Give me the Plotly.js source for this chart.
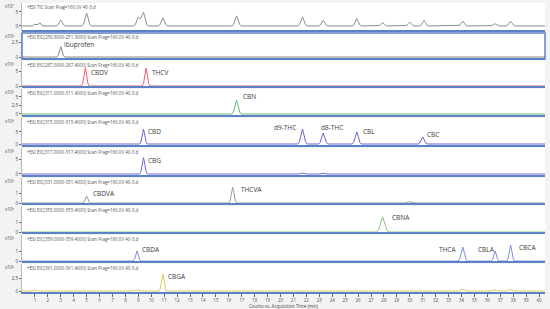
<!DOCTYPE html>
<html>
<head>
<meta charset="utf-8">
<script src="https://cdn.plot.ly/plotly-3.0.1.min.js"></script>
<style>
  html, body { margin: 0; padding: 0; background: #f3f3f3; }
  #tester { width: 550px; height: 309px; }
</style>
</head>
<body>
<div id="tester"></div>
<script>
TESTER = document.getElementById('tester');

// retention time (min) / counts, one pair per panel
const ticTime = [0,
  0.8, 0.95, 1.1, 1.25, 1.4, 1.52, 1.7,
  2.64, 2.76, 2.88, 3.0, 3.12, 3.24, 3.36,
  4.64, 4.76, 4.88, 5.0, 5.12, 5.24, 5.36,
  8.64, 8.76, 8.88, 9.0, 9.12, 9.22, 9.31, 9.4, 9.52, 9.64, 9.76,
  10.54, 10.66, 10.78, 10.9, 11.02, 11.14, 11.26,
  16.24, 16.36, 16.48, 16.6, 16.72, 16.84, 16.96,
  21.34, 21.46, 21.58, 21.7, 21.82, 21.94, 22.06,
  22.94, 23.06, 23.18, 23.3, 23.42, 23.54, 23.66,
  25.54, 25.66, 25.78, 25.9, 26.02, 26.14, 26.26,
  27.54, 27.66, 27.78, 27.9, 28.02, 28.14, 28.26,
  29.64, 29.76, 29.88, 30.0, 30.12, 30.24, 30.36,
  30.74, 30.86, 30.98, 31.1, 31.22, 31.34, 31.46,
  33.74, 33.86, 33.98, 34.1, 34.22, 34.34, 34.46,
  36.24, 36.36, 36.48, 36.6, 36.72, 36.84, 36.96,
  37.44, 37.56, 37.68, 37.8, 37.92, 38.04, 38.16,
  40.5];
const ticCounts = [0,
  0, 0.5, 0.6, 0.6, 1.1, 0.3, 0,
  0, 0.3, 1.25, 2.1, 1.25, 0.3, 0,
  0, 0.65, 2.75, 4.6, 2.75, 0.65, 0,
  0, 0.45, 1.9, 3.2, 2.6, 2.9, 4.0, 4.9, 2.95, 0.7, 0,
  0, 0.4, 1.75, 2.9, 1.75, 0.4, 0,
  0, 0.5, 2.15, 3.6, 2.15, 0.5, 0,
  0, 0.45, 1.9, 3.2, 1.9, 0.45, 0,
  0, 0.28, 1.2, 2.0, 1.2, 0.28, 0,
  0, 0.36, 1.55, 2.6, 1.55, 0.36, 0,
  0, 0.17, 0.72, 1.2, 0.72, 0.17, 0,
  0, 0.2, 0.85, 1.4, 0.85, 0.2, 0,
  0, 0.28, 1.2, 2.0, 1.2, 0.28, 0,
  0, 0.24, 1.0, 1.7, 1.0, 0.24, 0,
  0, 0.11, 0.48, 0.8, 0.48, 0.11, 0,
  0, 0.24, 1.0, 1.7, 1.0, 0.24, 0,
  0];

const ibuTime = [0, 2.7, 2.8, 2.9, 3.0, 3.1, 3.2, 3.3, 40.5];
const ibuCounts = [0, 0, 0.24, 1.0, 1.7, 1.0, 0.24, 0, 0];

const eic287Time = [0, 4.6, 4.7, 4.8, 4.9, 5.0, 5.1, 5.2,
  9.3, 9.4, 9.5, 9.6, 9.7, 9.8, 9.9, 40.5];
const eic287Counts = [0, 0, 0.85, 3.6, 6.0, 3.6, 0.85, 0,
  0, 0.85, 3.6, 6.0, 3.6, 0.85, 0, 0];

const eic311Time = [0, 16.24, 16.36, 16.48, 16.6, 16.72, 16.84, 16.96, 40.5];
const eic311Counts = [0, 0, 0.57, 2.45, 4.1, 2.45, 0.57, 0, 0];

const eic315Time = [0,
  9.1, 9.2, 9.3, 9.4, 9.5, 9.6, 9.7,
  21.34, 21.46, 21.58, 21.7, 21.82, 21.94, 22.06,
  22.94, 23.06, 23.18, 23.3, 23.42, 23.54, 23.66,
  25.54, 25.66, 25.78, 25.9, 26.02, 26.14, 26.26,
  30.64, 30.76, 30.88, 31.0, 31.12, 31.24, 31.36,
  40.5];
const eic315Counts = [0,
  0, 0.87, 3.7, 6.2, 3.7, 0.87, 0,
  0, 0.87, 3.7, 6.2, 3.7, 0.87, 0,
  0, 0.65, 2.75, 4.6, 2.75, 0.65, 0,
  0, 0.7, 3.0, 5.0, 3.0, 0.7, 0,
  0, 0.4, 1.75, 2.9, 1.75, 0.4, 0,
  0];

const eic317Time = [0, 9.1, 9.2, 9.3, 9.4, 9.5, 9.6, 9.7,
  21.4, 21.7, 22.0, 23.0, 23.3, 23.6, 25.6, 25.9, 26.2, 40.5];
const eic317Counts = [0, 0, 0.77, 3.3, 5.5, 3.3, 0.77, 0,
  0, 0.3, 0, 0, 0.25, 0, 0, 0.25, 0, 0];

const eic331Time = [0, 4.7, 4.8, 4.9, 5.0, 5.1, 5.2, 5.3,
  16.0, 16.1, 16.2, 16.3, 16.4, 16.5, 16.6, 29.6, 30.0, 30.4, 40.5];
const eic331Counts = [0, 0, 0.1, 0.42, 0.7, 0.42, 0.1, 0,
  0, 0.22, 0.96, 1.6, 0.96, 0.22, 0, 0, 0.12, 0, 0];

const eic355Time = [0, 27.42, 27.58, 27.74, 27.9, 28.06, 28.22, 28.38, 40.5];
const eic355Counts = [0, 0, 0.21, 0.9, 1.5, 0.9, 0.21, 0, 0];

const eic359Time = [0,
  8.6, 8.7, 8.8, 8.9, 9.0, 9.1, 9.2,
  33.74, 33.86, 33.98, 34.1, 34.22, 34.34, 34.46,
  36.3, 36.4, 36.5, 36.6, 36.7, 36.8, 36.9,
  37.5, 37.6, 37.7, 37.8, 37.9, 38.0, 38.1,
  40.5];
const eic359Counts = [0,
  0, 0.14, 0.6, 1.0, 0.6, 0.14, 0,
  0, 0.2, 0.84, 1.4, 0.84, 0.2, 0,
  0, 0.14, 0.6, 1.0, 0.6, 0.14, 0,
  0, 0.22, 0.96, 1.6, 0.96, 0.22, 0,
  0];

const eic361Time = [0, 0.7, 1.0, 1.3, 8.6, 8.9, 9.2,
  10.6, 10.7, 10.8, 10.9, 11.0, 11.1, 11.2,
  33.8, 34.1, 34.4, 36.3, 36.6, 36.9, 37.5, 37.8, 38.1, 40.5];
const eic361Counts = [0, 0, 0.2, 0, 0, 0.25, 0,
  0, 0.46, 2.0, 3.3, 2.0, 0.46, 0,
  0, 0.35, 0, 0, 0.25, 0, 0, 0.35, 0, 0];

const panelHeaders = [
  '+ESI TIC Scan Frag=160.0V 40-3.d',
  '+ESI EIC(250.9000-251.3000) Scan Frag=160.0V 40-3.d',
  '+ESI EIC(287.0000-287.4000) Scan Frag=160.0V 40-3.d',
  '+ESI EIC(311.0000-311.4000) Scan Frag=160.0V 40-3.d',
  '+ESI EIC(315.0000-315.4000) Scan Frag=160.0V 40-3.d',
  '+ESI EIC(317.0000-317.4000) Scan Frag=160.0V 40-3.d',
  '+ESI EIC(331.0000-331.4000) Scan Frag=160.0V 40-3.d',
  '+ESI EIC(355.0000-355.4000) Scan Frag=160.0V 40-3.d',
  '+ESI EIC(359.0000-359.4000) Scan Frag=160.0V 40-3.d',
  '+ESI EIC(361.0000-361.4000) Scan Frag=160.0V 40-3.d'
];
const panelScale = ['x10⁷', 'x10⁵', 'x10⁵', 'x10⁵', 'x10⁵', 'x10⁵', 'x10⁵', 'x10⁵', 'x10⁵', 'x10⁵'];
const panelTicks = [[0, 5], [0, 2.5], [0, 5], [0, 2.5, 5], [0, 5], [0, 5], [0, 1], [0, 1], [0, 1], [0, 2.5]];

// peak names, which panel they sit in, and where the text goes (time, counts)
const labelNames = ['Ibuprofen', 'CBDV', 'THCV', 'CBN', 'CBD', 'd9-THC', 'd8-THC', 'CBL', 'CBC',
  'CBG', 'CBDVA', 'THCVA', 'CBNA', 'CBDA', 'THCA', 'CBLA', 'CBCA', 'CBGA'];
const labelPanel = [1, 2, 2, 3, 4, 4, 4, 4, 4, 5, 6, 6, 7, 8, 8, 8, 8, 9];
const labelTime = [3.1, 5.2, 9.9, 16.95, 9.6, 21.36, 23.0, 26.25, 31.2,
  9.6, 5.3, 16.8, 28.5, 9.1, 33.7, 35.1, 38.3, 11.15];
const labelCounts = [2.1, 4.4, 4.4, 5.0, 5.0, 7.0, 7.0, 5.0, 3.75,
  4.6, 1.0, 1.4, 1.5, 1.2, 1.2, 1.2, 1.4, 2.7];

const xTicks = [1, 2, 3, 4, 5, 6, 7, 8, 9, 10, 11, 12, 13, 14, 15, 16, 17, 18, 19, 20,
  21, 22, 23, 24, 25, 26, 27, 28, 29, 30, 31, 32, 33, 34, 35, 36, 37, 38, 39, 40];

// ---------------- drawing ----------------

let times = [ticTime, ibuTime, eic287Time, eic311Time, eic315Time, eic317Time, eic331Time, eic355Time, eic359Time, eic361Time];
let counts = [ticCounts, ibuCounts, eic287Counts, eic311Counts, eic315Counts, eic317Counts, eic331Counts, eic355Counts, eic359Counts, eic361Counts];
let colors = ['#8c8c8c', '#858585', '#ee5f6e', '#66b46f', '#6a66d6', '#7468d6', '#9c9c9c', '#8cc46e', '#7d8ee2', '#d8cc58'];

// panel boxes in pixels (top, bottom) and y ranges so the ticks land where they do in the picture
let boxTop = [3, 33, 61, 89, 118, 148, 178, 206, 235, 264];
let boxBot = [31, 59, 87, 116, 146, 176, 204, 233, 262, 292];
let yRanges = [[-1.79, 8.2], [-0.33, 4.0], [-0.33, 8.33], [-0.59, 7.35], [-0.83, 10.8],
  [-0.67, 8.67], [-0.1, 2.5], [-0.1, 2.6], [-0.1, 2.6], [-0.19, 5.19]];

let plotTop = 3, plotH = 289;

function yName(i) { return i == 0 ? 'y' : 'y' + (i + 1); }
function yKey(i) { return i == 0 ? 'yaxis' : 'yaxis' + (i + 1); }

let data = [];
let layout = {
  width: 550,
  height: 309,
  margin: { l: 22, r: 5, t: 3, b: 17 },
  paper_bgcolor: '#f3f3f3',
  plot_bgcolor: '#ffffff',
  showlegend: false,
  font: { family: 'Open Sans, Arial, sans-serif', color: '#444', size: 5 },
  xaxis: {
    anchor: 'y10',
    range: [0, 40.46],
    tickmode: 'array',
    tickvals: xTicks,
    ticktext: xTicks.map(String),
    tickfont: { size: 4.5, color: '#555' },
    ticks: 'outside',
    ticklen: 3,
    tickcolor: '#666',
    showgrid: false,
    zeroline: false,
    showline: true,
    linecolor: '#5b82c4',
    linewidth: 2,
    title: { text: 'Counts vs. Acquisition Time (min)', font: { size: 4.5, color: '#444' }, standoff: 0 }
  },
  shapes: [],
  annotations: []
};

for (let i = 0; i < 10; i++) {
  let domLo = 1 - (boxBot[i] - plotTop) / plotH;
  let domHi = 1 - (boxTop[i] - plotTop) / plotH;

  data.push({
    x: times[i],
    y: counts[i],
    xaxis: 'x',
    yaxis: yName(i),
    type: 'scatter',
    mode: 'lines',
    line: { color: colors[i], width: 1 },
    hoverinfo: 'skip'
  });

  layout[yKey(i)] = {
    domain: [domLo, domHi],
    range: yRanges[i],
    tickmode: 'array',
    tickvals: panelTicks[i],
    ticktext: panelTicks[i].map(String),
    tickfont: { size: 4.5, color: '#444' },
    ticks: 'outside',
    ticklen: 2,
    tickcolor: '#666',
    showgrid: false,
    zeroline: false,
    showline: true,
    linecolor: '#b8b8b8',
    linewidth: 1,
    anchor: 'x'
  };

  if (i < 9) {
    layout.shapes.push({
      type: 'line', xref: 'paper', yref: 'paper',
      x0: 0, x1: 1, y0: domLo, y1: domLo,
      line: { color: '#5b82c4', width: 2 }
    });
  }

  layout.annotations.push({
    text: panelHeaders[i],
    xref: 'paper', yref: 'paper',
    x: 0.006, y: domHi, xanchor: 'left', yanchor: 'top', yshift: 1,
    showarrow: false,
    font: { size: 4.5, color: '#555' }
  });
  layout.annotations.push({
    text: panelScale[i],
    xref: 'paper', yref: 'paper',
    x: -0.036, y: domHi, xanchor: 'left', yanchor: 'top', yshift: 2,
    showarrow: false,
    font: { size: 4.5, color: '#444' }
  });
}

// the Ibuprofen panel is the selected one in the software, it gets a blue frame
layout.shapes.push({
  type: 'rect', xref: 'paper', yref: 'paper',
  x0: 0, x1: 1,
  y0: 1 - (boxBot[1] - plotTop) / plotH, y1: 1 - (boxTop[1] - plotTop) / plotH,
  line: { color: '#5b82c4', width: 1.5 }
});

for (let k = 0; k < labelNames.length; k++) {
  let rightSide = labelNames[k] == 'd9-THC' || labelNames[k] == 'THCA';
  layout.annotations.push({
    text: labelNames[k],
    xref: 'x', yref: yName(labelPanel[k]),
    x: labelTime[k], y: labelCounts[k],
    xanchor: rightSide ? 'right' : 'left',
    yanchor: 'middle',
    showarrow: false,
    font: { size: 6.5, color: '#3a3a3a' }
  });
}

let config = { staticPlot: true };

Plotly.newPlot('tester', data, layout, config);
</script>
</body>
</html>
